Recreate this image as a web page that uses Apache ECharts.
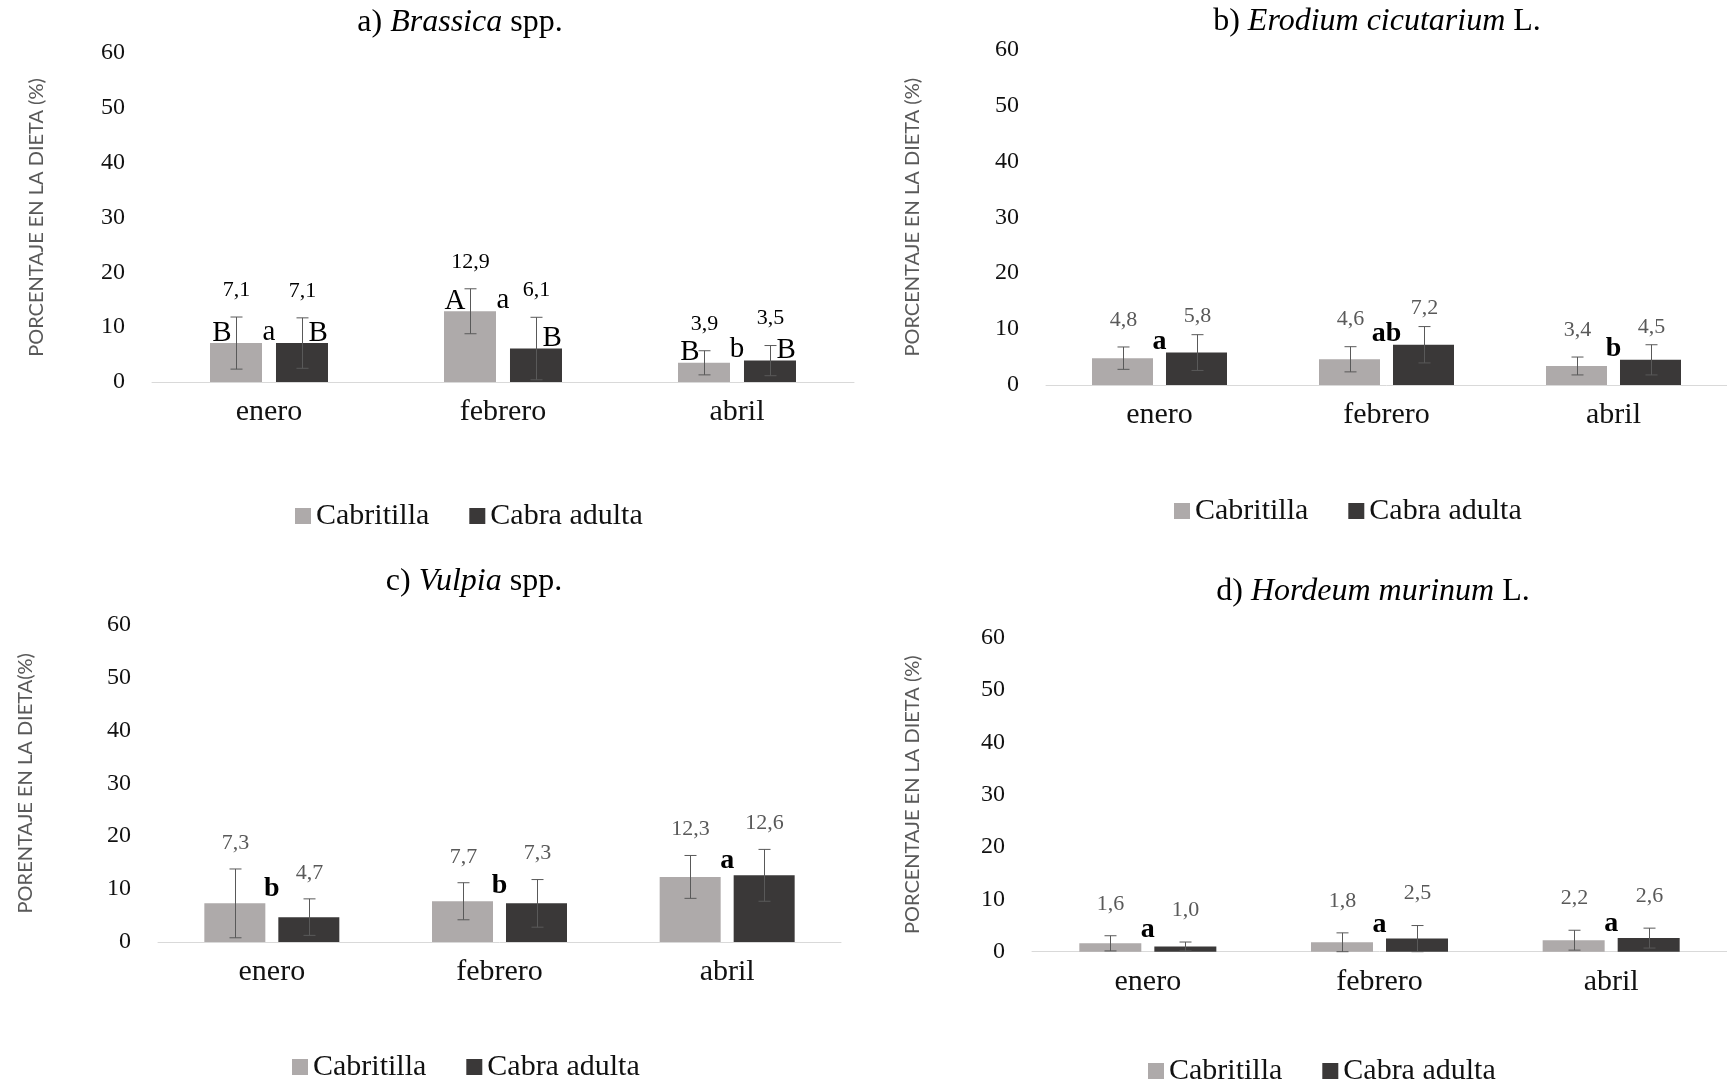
<!DOCTYPE html>
<html><head><meta charset="utf-8">
<script src="https://cdn.jsdelivr.net/npm/echarts@6/dist/echarts.min.js"></script>
<style>html,body{margin:0;padding:0;background:#fff}#c{width:1727px;height:1086px}</style>
</head><body><div id="c"></div>
<script>
// ---------- data ----------
const months = ['enero', 'febrero', 'abril'];
const groupNames = ['Cabritilla', 'Cabra adulta'];
const yMin = 0, yMax = 60, yStep = 10;

// a) Brassica spp.
const brassicaCabritilla = [7.1, 12.9, 3.5];
const brassicaCabritillaSD = [4.75, 4.1, 2.2];
const brassicaCabra = [7.1, 6.1, 3.9];
const brassicaCabraSD = [4.6, 5.7, 2.75];
const brassicaCabritillaText = ['7,1', '12,9', '3,9'];
const brassicaCabraText = ['7,1', '6,1', '3,5'];
const brassicaCabritillaLetter = ['B', 'A', 'B'];
const brassicaCabraLetter = ['B', 'B', 'B'];
const brassicaMonthLetter = ['a', 'a', 'b'];

// b) Erodium cicutarium L.
const erodiumCabritilla = [4.8, 4.6, 3.4];
const erodiumCabritillaSD = [2.0, 2.25, 1.6];
const erodiumCabra = [5.8, 7.2, 4.5];
const erodiumCabraSD = [3.2, 3.25, 2.7];
const erodiumCabritillaText = ['4,8', '4,6', '3,4'];
const erodiumCabraText = ['5,8', '7,2', '4,5'];
const erodiumMonthLetter = ['a', 'ab', 'b'];

// c) Vulpia spp.
const vulpiaCabritilla = [7.3, 7.7, 12.3];
const vulpiaCabritillaSD = [6.5, 3.5, 4.05];
const vulpiaCabra = [4.7, 7.3, 12.6];
const vulpiaCabraSD = [3.45, 4.5, 4.9];
const vulpiaCabritillaText = ['7,3', '7,7', '12,3'];
const vulpiaCabraText = ['4,7', '7,3', '12,6'];
const vulpiaMonthLetter = ['b', 'b', 'a'];

// d) Hordeum murinum L.
const hordeumCabritilla = [1.6, 1.8, 2.2];
const hordeumCabritillaSD = [1.45, 1.8, 1.9];
const hordeumCabra = [1.0, 2.5, 2.6];
const hordeumCabraSD = [0.85, 2.5, 1.9];
const hordeumCabritillaText = ['1,6', '1,8', '2,2'];
const hordeumCabraText = ['1,0', '2,5', '2,6'];
const hordeumMonthLetter = ['a', 'a', 'a'];

// ---------- styling / layout ----------
const SERIF = '"Liberation Serif", "Times New Roman", serif';
const SANS = 'Lato, "Open Sans", sans-serif';
const C_LIGHT = '#AEAAAA', C_DARK = '#3A3838', C_ERR = '#595959';

const panels = [
  { title: ['a) ', 'Brassica', ' spp.'], yName: 'PORCENTAJE EN LA DIETA (%)',
    cab: brassicaCabritilla, cabSD: brassicaCabritillaSD, ad: brassicaCabra, adSD: brassicaCabraSD,
    cabText: brassicaCabritillaText, adText: brassicaCabraText,
    cabLetter: brassicaCabritillaLetter, adLetter: brassicaCabraLetter, midLetter: brassicaMonthLetter,
    grid: { left: 152, top: 53, width: 702, height: 329 }, barW: 52, gapPx: 14,
    titlePos: [460, 7], legendPos: [295, 501], nameGap: 105, labelGap: [27, 27], midOff: 11,
    labelColor: '#000', midBold: 'normal', midSize: 29 },
  { title: ['b) ', 'Erodium cicutarium', ' L.'], yName: 'PORCENTAJE EN LA DIETA (%)',
    cab: erodiumCabritilla, cabSD: erodiumCabritillaSD, ad: erodiumCabra, adSD: erodiumCabraSD,
    cabText: erodiumCabritillaText, adText: erodiumCabraText,
    cabLetter: null, adLetter: null, midLetter: erodiumMonthLetter,
    grid: { left: 1046, top: 49.5, width: 681, height: 335.5 }, barW: 61, gapPx: 13,
    titlePos: [1377, 6], legendPos: [1174, 496], nameGap: 123, labelGap: [27, 18], midOff: 11,
    labelColor: '#595959', midBold: 'bold', midSize: 28 },
  { title: ['c) ', 'Vulpia', ' spp.'], yName: 'PORENTAJE EN LA DIETA(%)',
    cab: vulpiaCabritilla, cabSD: vulpiaCabritillaSD, ad: vulpiaCabra, adSD: vulpiaCabraSD,
    cabText: vulpiaCabritillaText, adText: vulpiaCabraText,
    cabLetter: null, adLetter: null, midLetter: vulpiaMonthLetter,
    grid: { left: 158, top: 624.5, width: 683, height: 317.5 }, barW: 61, gapPx: 13,
    titlePos: [474, 566], legendPos: [292, 1052], nameGap: 122, labelGap: [26, 26], midOff: 15,
    labelColor: '#595959', midBold: 'bold', midSize: 28 },
  { title: ['d) ', 'Hordeum murinum', ' L.'], yName: 'PORCENTAJE EN LA DIETA (%)',
    cab: hordeumCabritilla, cabSD: hordeumCabritillaSD, ad: hordeumCabra, adSD: hordeumCabraSD,
    cabText: hordeumCabritillaText, adText: hordeumCabraText,
    cabLetter: null, adLetter: null, midLetter: hordeumMonthLetter,
    grid: { left: 1032, top: 637.7, width: 695, height: 314 }, barW: 62, gapPx: 13,
    titlePos: [1373, 576], legendPos: [1148, 1056], nameGap: 109, labelGap: [32, 32], midOff: 14,
    labelColor: '#595959', midBold: 'bold', midSize: 28 }
];

function makeRender(p) {
  return function (params, api) {
    const i = params.dataIndex;
    const center = api.coord([i, 0])[0];
    const half = (p.barW + p.gapPx) / 2;
    const items = [
      { v: p.cab[i], sd: p.cabSD[i], txt: p.cabText[i], letter: p.cabLetter ? p.cabLetter[i] : '', dx: -half, side: -1, lg: p.labelGap[0] },
      { v: p.ad[i], sd: p.adSD[i], txt: p.adText[i], letter: p.adLetter ? p.adLetter[i] : '', dx: half, side: 1, lg: p.labelGap[1] }
    ];
    const children = [];
    let minBarTop = Infinity;
    items.forEach(function (g) {
      const x = Math.round(center + g.dx) + 0.5;
      const yTop = api.coord([i, g.v + g.sd])[1];
      const yBot = api.coord([i, Math.max(0, g.v - g.sd)])[1];
      const yBar = api.coord([i, g.v])[1];
      minBarTop = Math.min(minBarTop, yBar);
      const st = { stroke: C_ERR, lineWidth: 1 };
      children.push({ type: 'line', shape: { x1: x, y1: yTop, x2: x, y2: yBot }, style: st });
      children.push({ type: 'line', shape: { x1: x - 6, y1: yTop, x2: x + 6, y2: yTop }, style: st });
      children.push({ type: 'line', shape: { x1: x - 6, y1: yBot, x2: x + 6, y2: yBot }, style: st });
      children.push({ type: 'text', style: { text: g.txt, x: x, y: yTop - g.lg, fill: p.labelColor,
        fontSize: 22, fontFamily: SERIF, align: 'center', verticalAlign: 'middle' } });
      if (g.letter) {
        children.push({ type: 'text', style: { text: g.letter, x: x + (g.side < 0 ? -5 : 6), y: yBar - 10,
          fill: '#000', fontSize: 29, fontFamily: SERIF, align: g.side < 0 ? 'right' : 'left', verticalAlign: 'middle' } });
      }
    });
    children.push({ type: 'text', style: { text: p.midLetter[i], x: center, y: minBarTop - p.midOff,
      fill: '#000', fontSize: p.midSize, fontWeight: p.midBold, fontFamily: SERIF, align: 'center', verticalAlign: 'middle' } });
    return { type: 'group', children: children };
  };
}

const option = { animation: false, backgroundColor: '#fff',
  title: [], legend: [], grid: [], xAxis: [], yAxis: [], series: [] };

panels.forEach(function (p, k) {
  option.title.push({
    text: '{n|' + p.title[0] + '}{i|' + p.title[1] + '}{n|' + p.title[2] + '}',
    left: p.titlePos[0], top: p.titlePos[1], textAlign: 'center', padding: 0,
    textStyle: { fontWeight: 'normal', fontFamily: SERIF, fontSize: 32, color: '#000', rich: {
      n: { fontFamily: SERIF, fontSize: 32, color: '#000', fontWeight: 'normal' },
      i: { fontFamily: SERIF, fontSize: 32, color: '#000', fontWeight: 'normal', fontStyle: 'italic' } } }
  });
  option.legend.push({
    data: groupNames, left: p.legendPos[0], top: p.legendPos[1], icon: 'rect', padding: 0,
    itemWidth: 16, itemHeight: 16, itemGap: 40, selectedMode: false,
    textStyle: { fontFamily: SERIF, fontSize: 30, color: '#111' }
  });
  option.grid.push(Object.assign({ containLabel: false }, p.grid));
  option.xAxis.push({
    type: 'category', gridIndex: k, data: months,
    axisLine: { lineStyle: { color: '#d9d9d9', width: 1 } }, axisTick: { show: false },
    axisLabel: { fontFamily: SERIF, fontSize: 30, color: '#111', margin: 15 }
  });
  option.yAxis.push({
    type: 'value', gridIndex: k, min: yMin, max: yMax, interval: yStep,
    name: p.yName, nameLocation: 'middle', nameGap: p.nameGap,
    nameTextStyle: { fontFamily: SANS, fontSize: 20, color: '#595959' },
    axisLine: { show: false }, axisTick: { show: false }, splitLine: { show: false },
    axisLabel: { fontFamily: SERIF, fontSize: 24, color: '#111', margin: 27 }
  });
  const gap = (p.gapPx / p.barW * 100).toFixed(1) + '%';
  option.series.push({ type: 'bar', name: groupNames[0], xAxisIndex: k, yAxisIndex: k,
    data: p.cab, barWidth: p.barW, barGap: gap, itemStyle: { color: C_LIGHT }, silent: true });
  option.series.push({ type: 'bar', name: groupNames[1], xAxisIndex: k, yAxisIndex: k,
    data: p.ad, barWidth: p.barW, barGap: gap, itemStyle: { color: C_DARK }, silent: true });
  option.series.push({ type: 'custom', name: 'err' + k, xAxisIndex: k, yAxisIndex: k, z: 5,
    renderItem: makeRender(p), clip: false, silent: true,
    encode: { x: 0, y: 1 },
    data: months.map(function (m, i) { return [i, Math.max(p.cab[i], p.ad[i])]; }) });
});

const chart = echarts.init(document.getElementById('c'));
chart.setOption(option);
</script>
</body></html>
